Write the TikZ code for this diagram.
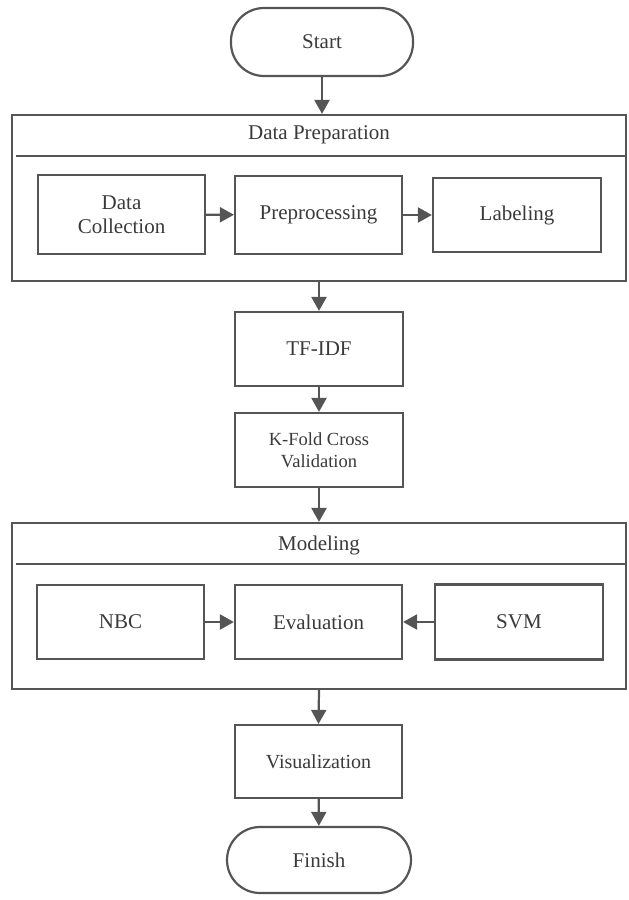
\documentclass[tikz,border=0pt]{standalone}
\usepackage{fontspec}
\setmainfont{Liberation Serif}
\usetikzlibrary{arrows.meta}
\definecolor{lc}{HTML}{555555}
\definecolor{tc}{HTML}{3A3A3A}
\tikzset{
  box/.style={draw=lc, line width=2.2pt, minimum width=167pt, minimum height=75pt, inner sep=0pt, align=center, text=tc, font=\fontsize{21}{24}\selectfont},
  term/.style={box, rounded corners=33pt},
  frame/.style={draw=lc, line width=2.2pt, minimum width=614pt, minimum height=166pt, inner sep=0pt},
  ttl/.style={text=tc, font=\fontsize{21}{24}\selectfont, inner sep=0pt},
  arr/.style={draw=lc, line width=2.2pt, -{Triangle[length=14pt,width=15pt]}},
  divl/.style={draw=lc, line width=2.2pt}
}
\begin{document}
\begin{tikzpicture}[x=1pt,y=-1pt]
\useasboundingbox (0,0) rectangle (629,900);
% Start
\node[term, minimum width=182pt, minimum height=68pt] (start) at (322,42) {Start};
% Data Preparation frame
\node[frame] (dp) at (319,198) {};
\node[ttl] (dpt) at (319,135) {Data Preparation};
\coordinate (dpl) at (16,156);
\coordinate (dpr) at (626,156);
\draw[divl] (dpl) -- (dpr);
\node[box, minimum height=79pt] (dc) at (121.5,214.5) {Data\\Collection};
\node[box, minimum height=78pt] (pre) at (318.5,215) {Preprocessing};
\node[box, minimum width=168pt, minimum height=74pt] (lab) at (517,215) {Labeling};
% TF-IDF and K-Fold
\node[box, minimum width=168pt, minimum height=74pt] (tf) at (319,349) {TF-IDF};
\node[box, minimum width=168pt, minimum height=74pt, font=\fontsize{18.5}{21.7}\selectfont] (kf) at (319,450) {K-Fold Cross\\Validation};
% Modeling frame
\node[frame] (mod) at (319,606) {};
\node[ttl] (modt) at (319,545) {Modeling};
\coordinate (mdl) at (16,564);
\coordinate (mdr) at (626,564);
\draw[divl] (mdl) -- (mdr);
\node[box, minimum height=74pt] (nbc) at (120.5,622) {NBC};
\node[box, minimum height=74pt] (ev) at (318.5,622) {Evaluation};
\node[box, minimum width=168pt, minimum height=75pt] (svm) at (519,622) {SVM};
% Visualization and Finish
\node[box, minimum height=73pt, font=\fontsize{20}{24}\selectfont] (vis) at (318.5,761.5) {Visualization};
\node[term, minimum width=184pt, minimum height=66pt] (fin) at (319,860) {Finish};
% connectors
\draw[arr] (start.south) -- (start.south |- dp.north);
\draw[arr] (dc) -- (pre);
\draw[arr] (pre) -- (lab);
\draw[arr] (dp.south) -- (tf.north);
\draw[arr] (tf) -- (kf);
\draw[arr] (kf.south) -- (mod.north);
\draw[arr] (nbc) -- (ev);
\draw[arr] (svm) -- (ev);
\draw[arr] (mod.south) -- (vis.north);
\draw[arr] (vis) -- (fin);
\end{tikzpicture}
\end{document}
